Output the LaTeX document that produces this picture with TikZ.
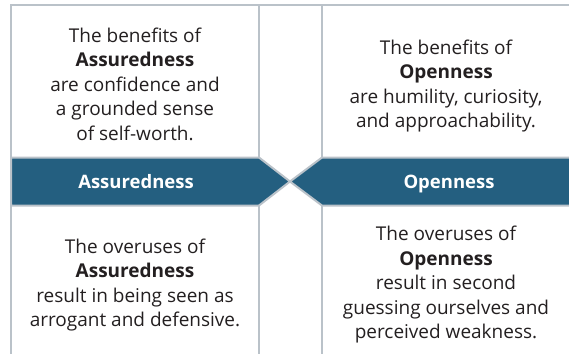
\documentclass[tikz,border=0pt]{standalone}
\usepackage{fontspec}
\setmainfont{Open Sans}
\usepackage{tikz}
\definecolor{rulegrey}{HTML}{BAC2C9}
\definecolor{bandblue}{HTML}{245F80}
\definecolor{inkgrey}{HTML}{231F20}
\begin{document}
\begin{tikzpicture}[x=1pt,y=-1pt, line width=2pt,
	panel/.style={align=center, inner sep=0pt, text=inkgrey, font=\fontsize{19}{24.5}\selectfont},
	bandlabel/.style={inner sep=0pt, text=white, font=\fontsize{18.5}{24.5}\selectfont\bfseries, anchor=base}]
		\useasboundingbox (0,0) rectangle (569,354);
		\draw[rulegrey] (11,5) -- (569,5); % top
		\draw[rulegrey] (11,4) -- (11,354); % side left
		\draw[rulegrey] (259,5) -- (259,158); \draw[rulegrey] (259,205) -- (259,354); % middle left
		\draw[rulegrey] (322,5) -- (322,158); \draw[rulegrey] (322,205) -- (322,354); % middle right
		\filldraw[draw=rulegrey,fill=bandblue] (11,157.5) -- (259,157.5) -- (290,181.5) -- (259,205.5) -- (11,205.5) -- cycle; % band left
		\filldraw[draw=rulegrey,fill=bandblue] (570,157.5) -- (322,157.5) -- (290,181.5) -- (322,205.5) -- (570,205.5); % band right
		\node[bandlabel] (assured) at (136,188) {Assuredness};
		\node[bandlabel] (open) at (449,188) {Openness};
		\node[panel] (benefitA) at (135,84) {The benefits of\\ \textbf{Assuredness}\\ are confidence and\\ a grounded sense\\ of self-worth.};
		\node[panel] (benefitO) at (446,86) {The benefits of\\ \textbf{Openness}\\ are humility, curiosity,\\ and approachability.};
		\node[panel] (overuseA) at (135,285) {The overuses of\\ \textbf{Assuredness}\\ result in being seen as\\ arrogant and defensive.};
		\node[panel] (overuseO) at (446,285) {The overuses of\\ \textbf{Openness}\\ result in second\\ guessing ourselves and\\ perceived weakness.};
\end{tikzpicture}
\end{document}
